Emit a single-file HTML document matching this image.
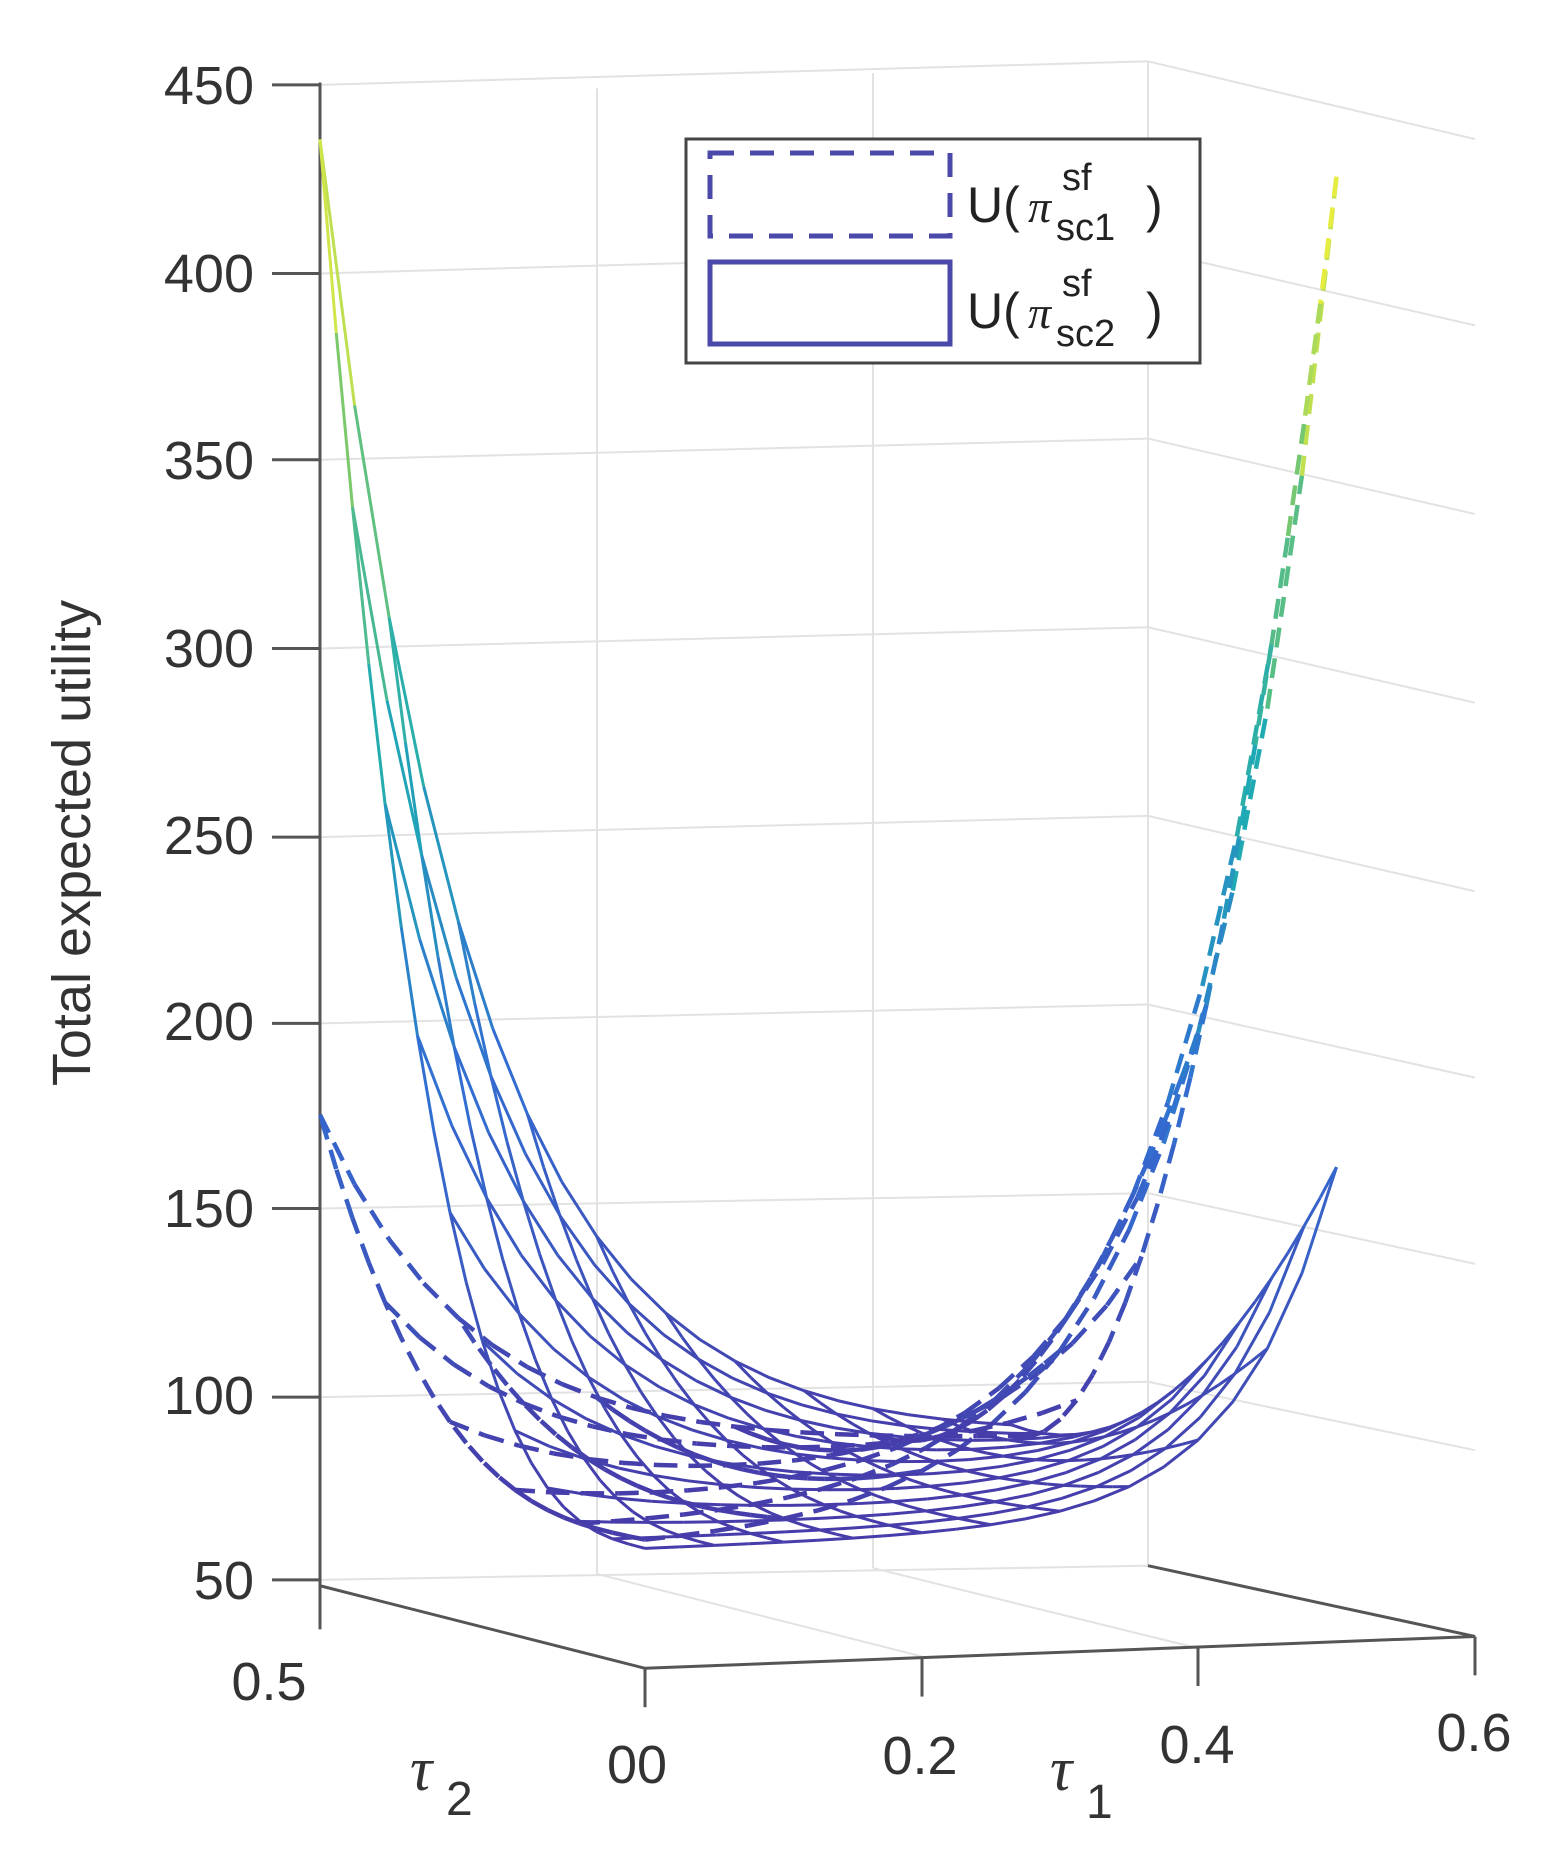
<!DOCTYPE html>
<html><head><meta charset="utf-8"><style>
html,body{margin:0;padding:0;background:#fff;}
svg{display:block;font-family:"Liberation Sans",sans-serif;}
line,rect{vector-effect:non-scaling-stroke;}
</style></head><body>
<svg width="1568" height="1852" viewBox="0 0 1568 1852" xmlns="http://www.w3.org/2000/svg">
<g transform="scale(1,1.179)">
<g stroke="#e2e2e2" stroke-width="2" fill="none">
<line x1="597" y1="75" x2="597" y2="1335"/>
<line x1="873" y1="62" x2="873" y2="1330"/>
<line x1="1148" y1="52" x2="1148" y2="1328"/>
<line x1="320" y1="72" x2="1148" y2="52"/>
<line x1="320" y1="232" x2="1148" y2="212"/>
<line x1="320" y1="390" x2="1148" y2="372"/>
<line x1="320" y1="550" x2="1148" y2="532"/>
<line x1="320" y1="710" x2="1148" y2="692"/>
<line x1="320" y1="868" x2="1148" y2="852"/>
<line x1="320" y1="1025" x2="1148" y2="1012"/>
<line x1="320" y1="1185" x2="1148" y2="1172"/>
<line x1="320" y1="1340" x2="1148" y2="1328"/>
<line x1="1148" y1="52" x2="1475" y2="118"/>
<line x1="1148" y1="212" x2="1475" y2="276"/>
<line x1="1148" y1="372" x2="1475" y2="436"/>
<line x1="1148" y1="532" x2="1475" y2="596"/>
<line x1="1148" y1="692" x2="1475" y2="756"/>
<line x1="1148" y1="852" x2="1475" y2="914"/>
<line x1="1148" y1="1012" x2="1475" y2="1072"/>
<line x1="1148" y1="1172" x2="1475" y2="1230"/>
<line x1="597" y1="1335" x2="922" y2="1405"/>
<line x1="873" y1="1330" x2="1198" y2="1398"/>
</g>
<g stroke="#555" stroke-width="3" fill="none">
<line x1="320" y1="70" x2="320" y2="1382"/>
<line x1="320" y1="1345" x2="645" y2="1415"/>
<line x1="645" y1="1415" x2="1475" y2="1388"/>
<line x1="1148" y1="1328" x2="1475" y2="1388"/>
<line x1="645" y1="1415" x2="645" y2="1448"/>
<line x1="922" y1="1406" x2="922" y2="1439"/>
<line x1="1198" y1="1397" x2="1198" y2="1430"/>
<line x1="1475" y1="1388" x2="1475" y2="1421"/>
<line x1="272" y1="72" x2="320" y2="72"/><line x1="272" y1="232" x2="320" y2="232"/>
<line x1="272" y1="390" x2="320" y2="390"/><line x1="272" y1="550" x2="320" y2="550"/>
<line x1="272" y1="710" x2="320" y2="710"/><line x1="272" y1="868" x2="320" y2="868"/>
<line x1="272" y1="1025" x2="320" y2="1025"/><line x1="272" y1="1185" x2="320" y2="1185"/>
<line x1="272" y1="1340" x2="320" y2="1340"/>
</g>
<g id="mesh"></g>
</g>
<g font-size="54" fill="#333" text-anchor="end">
<text x="254" y="104">450</text><text x="254" y="292">400</text><text x="254" y="479">350</text>
<text x="254" y="667">300</text><text x="254" y="854">250</text><text x="254" y="1040">200</text>
<text x="254" y="1227">150</text><text x="254" y="1414">100</text><text x="254" y="1599">50</text>
</g>
<g font-size="54" fill="#333" text-anchor="middle">
<text x="269" y="1700">0.5</text><text x="637" y="1783">00</text><text x="920" y="1774">0.2</text>
<text x="1197" y="1763">0.4</text><text x="1474" y="1751">0.6</text>
</g>
<text x="410" y="1790" font-size="62" font-style="italic" font-family="Liberation Serif,serif" fill="#333">τ</text>
<text x="446" y="1815" font-size="48" fill="#333">2</text>
<text x="1050" y="1790" font-size="62" font-style="italic" font-family="Liberation Serif,serif" fill="#333">τ</text>
<text x="1086" y="1818" font-size="48" fill="#333">1</text>
<text transform="translate(90,843) rotate(-90)" font-size="54" fill="#333" text-anchor="middle">Total expected utility</text>
<rect x="686" y="139" width="514" height="224" fill="#fff" stroke="#444" stroke-width="3"/>
<rect x="710" y="153" width="240" height="83" fill="none" stroke="#4a48a8" stroke-width="5" stroke-dasharray="24,16"/>
<rect x="710" y="262" width="240" height="82" fill="none" stroke="#4a48a8" stroke-width="5"/>
<g fill="#222">
<text x="967" y="222" font-size="50">U(</text>
<text x="1028" y="222" font-size="46" font-family="Liberation Serif,serif" font-style="italic">π</text>
<text x="1062" y="190" font-size="38">sf</text><text x="1056" y="240" font-size="38">sc1</text>
<text x="1146" y="222" font-size="50">)</text>
<text x="967" y="328" font-size="50">U(</text>
<text x="1028" y="328" font-size="46" font-family="Liberation Serif,serif" font-style="italic">π</text>
<text x="1062" y="296" font-size="38">sf</text><text x="1056" y="346" font-size="38">sc2</text>
<text x="1146" y="328" font-size="50">)</text>
</g>
</svg>
<script>
(function(){
var g=document.getElementById('mesh'),NS='http://www.w3.org/2000/svg';
function P(a,b,z){return [645+a*1383-b*650,1415-a*45-b*140-(z-50)*3.17];}
var stops=[[0,[70,60,170]],[0.3,[50,110,210]],[0.55,[30,170,180]],[0.8,[120,200,110]],[1,[240,240,60]]];
function col(z){var t=Math.max(0,Math.min(1,(z-85)/345));for(var i=1;i<stops.length;i++){if(t<=stops[i][0]){var a=stops[i-1],b=stops[i],u=(t-a[0])/(b[0]-a[0]);return 'rgb('+[0,1,2].map(function(k){return Math.round(a[1][k]+(b[1][k]-a[1][k])*u)}).join(',')+')';}}return 'rgb(240,240,60)';}
function f2(a,b){return 82+355*Math.exp(-9*a)*Math.pow(b/0.5,3)+95*Math.exp(-14*(0.5-a))*Math.pow(1-b/0.5,2);}
function f1(a,b){return 82+94*Math.exp(-9*a)*Math.pow(b/0.5,3)+360*Math.exp(-10*(0.5-a))*Math.pow(1-b/0.5,2);}
function draw(f,n,dash){
  var N=20;
  for(var dir=0;dir<2;dir++)for(var i=0;i<=n;i++){
    var c=i/n*0.5;
    for(var k=0;k<N;k++){
      var s0=k/N*0.5,s1=(k+1)/N*0.5;
      var a0=dir?c:s0,b0=dir?s0:c,a1=dir?c:s1,b1=dir?s1:c;
      var z0=f(a0,b0),z1=f(a1,b1),p=P(a0,b0,z0),q=P(a1,b1,z1);
      var l=document.createElementNS(NS,'line');
      l.setAttribute('x1',p[0]);l.setAttribute('y1',p[1]);l.setAttribute('x2',q[0]);l.setAttribute('y2',q[1]);
      l.setAttribute('stroke',col((z0+z1)/2));l.setAttribute('stroke-width',dash?4.5:3);
      if(dash)l.setAttribute('stroke-dasharray','20,11');
      g.appendChild(l);
    }
  }
}
draw(f1,5,true);draw(f2,10,false);
})();
</script>
</body></html>
